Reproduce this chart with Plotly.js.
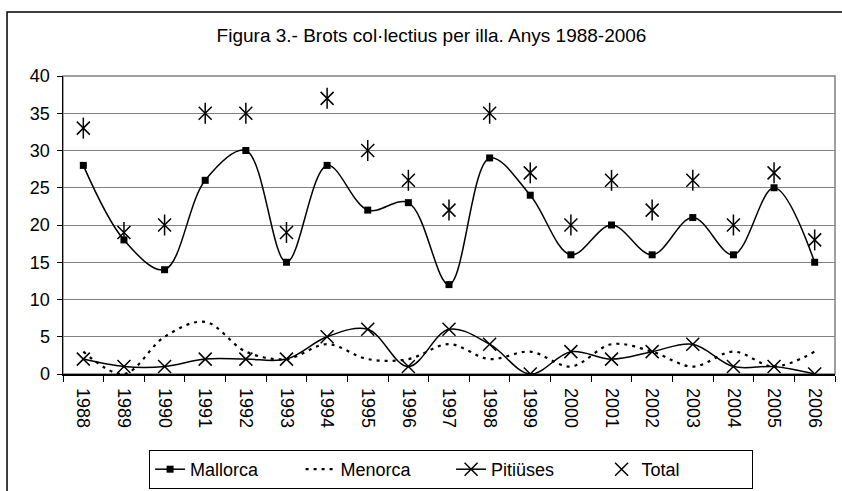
<!DOCTYPE html>
<html>
<head>
<meta charset="utf-8">
<script src="https://cdn.plot.ly/plotly-3.0.1.min.js"></script>
<style>
html,body{margin:0;padding:0;background:#fff;}
#chart{width:842px;height:491px;}
</style>
</head>
<body>
<div id="chart"></div>
<script>
const years = ["1988","1989","1990","1991","1992","1993","1994","1995","1996","1997","1998","1999","2000","2001","2002","2003","2004","2005","2006"];
const mallorca = [28,18,14,26,30,15,28,22,23,12,29,24,16,20,16,21,16,25,15];
const menorca  = [3,0,5,7,3,2,4,2,2,4,2,3,1,4,3,1,3,1,3];
const pitiuses = [2,1,1,2,2,2,5,6,1,6,4,0,3,2,3,4,1,1,0];
const total    = [33,19,20,35,35,19,37,30,26,22,35,27,20,26,22,26,20,27,18];
const yTicks = [0,5,10,15,20,25,30,35,40];

const FONT = "Liberation Sans, Arial, sans-serif";

const traces = [
  {x: years, y: mallorca, name: "Mallorca", type: "scatter", mode: "lines+markers",
   line: {color: "#000", width: 1.5, shape: "spline", smoothing: 1},
   marker: {symbol: "square", size: 7, color: "#000"}},
  {x: years, y: menorca, name: "Menorca", type: "scatter", mode: "lines",
   line: {color: "#000", width: 2.2, shape: "spline", smoothing: 1, dash: "3px,5px"}},
  {x: years, y: pitiuses, name: "Pitiüses", type: "scatter", mode: "lines+markers",
   line: {color: "#000", width: 1.5, shape: "spline", smoothing: 1},
   marker: {symbol: "x-thin-open", size: 13, color: "#000", line: {color: "#000", width: 1.5}}},
  {x: years, y: total, name: "Total", type: "scatter", mode: "markers",
   marker: {symbol: "x-thin-open", size: 13, color: "#000", line: {color: "#000", width: 1.5}}},
  {x: years, y: total, name: "Total", type: "scatter", mode: "markers", showlegend: false,
   marker: {symbol: "line-ns-open", size: 15, color: "#000", line: {color: "#000", width: 1.5}}}
];

const layout = {
  width: 842, height: 491,
  margin: {l: 63, r: 7, t: 76, b: 117, pad: 0, autoexpand: false},
  paper_bgcolor: "#fff", plot_bgcolor: "#fff",
  font: {family: FONT, size: 18, color: "#000"},
  title: {text: "Figura 3.- Brots col·lectius per illa. Anys 1988-2006",
          font: {family: FONT, size: 19, color: "#000"},
          xref: "container", x: 0.5125, xanchor: "center",
          yref: "container", y: 0.927, yanchor: "middle"},
  xaxis: {type: "category", range: [-0.5, years.length - 0.5], autorange: false,
          tickson: "boundaries", ticks: "outside", ticklen: 6,
          tickcolor: "#000", tickwidth: 1, showline: true, linecolor: "#000", linewidth: 1.5,
          showgrid: false, tickangle: 90, ticklabelstandoff: 9,
          tickfont: {family: FONT, size: 18, color: "#000"},
          zeroline: false, fixedrange: true, automargin: false},
  yaxis: {range: [0, 40], autorange: false, tickvals: yTicks, ticktext: yTicks.map(String),
          ticks: "outside", ticklen: 5, tickcolor: "#000", tickwidth: 1,
          showline: true, linecolor: "#000", linewidth: 1.5, ticklabelstandoff: 3,
          showgrid: true, gridcolor: "#808080", gridwidth: 1, zeroline: false,
          tickfont: {family: FONT, size: 18, color: "#000"}, fixedrange: true, automargin: false},
  showlegend: true,
  legend: {orientation: "h", x: 0.1115, xanchor: "left", y: -0.255, yanchor: "top",
           bordercolor: "#000", borderwidth: 1, bgcolor: "#fff",
           font: {family: FONT, size: 18, color: "#000"},
           entrywidth: 105.5, entrywidthmode: "pixels", itemwidth: 30,
           traceorder: "normal"},
  shapes: [
    {type: "rect", xref: "paper", yref: "paper", x0: 0, x1: 1, y0: 0, y1: 1,
     line: {color: "#808080", width: 1.5}, layer: "below"},
    {type: "path", xref: "paper", yref: "paper",
     path: "M 1.05,1.2148 L -0.0725,1.2148 L -0.0725,-0.45",
     line: {color: "#000", width: 1.5}, layer: "above"}
  ]
};

Plotly.newPlot("chart", traces, layout, {displayModeBar: false, staticPlot: true});
</script>
</body>
</html>
